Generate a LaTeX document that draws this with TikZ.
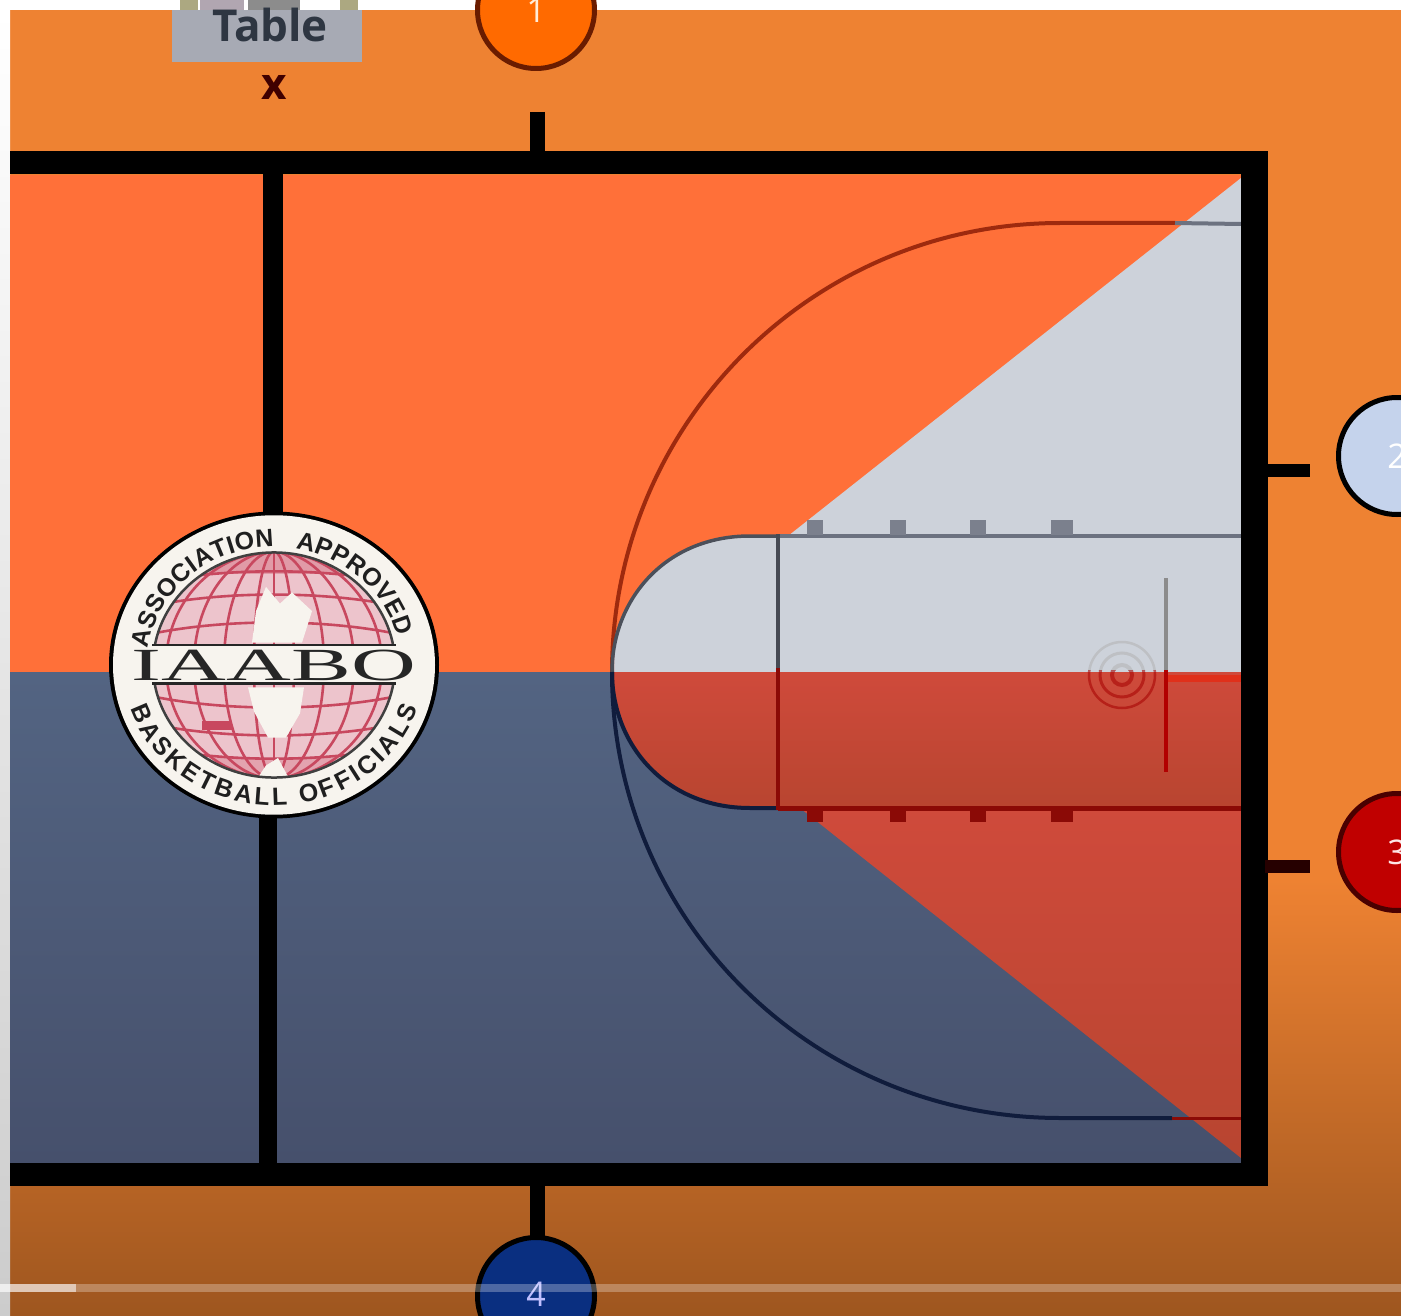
\documentclass[tikz,border=0pt]{standalone}
\usepackage{fontspec}
\setmainfont{Liberation Serif}
\newfontfamily\lblfont{Open Sans}
\newfontfamily\ringfont{Liberation Sans}
\usetikzlibrary{decorations.text}
\definecolor{bgo}{HTML}{EE8232}
\definecolor{bgd}{HTML}{9E561F}
\definecolor{courto}{HTML}{FF7039}
\definecolor{blueA}{HTML}{536482}
\definecolor{blueB}{HTML}{46506C}
\definecolor{keyg}{HTML}{CDD2DA}
\definecolor{redA}{HTML}{CF4A3B}
\definecolor{redB}{HTML}{B84530}
\definecolor{lineg}{HTML}{6C7280}
\definecolor{lined}{HTML}{8B0A06}
\definecolor{arcr}{HTML}{9E2A0E}
\definecolor{arcn}{HTML}{101C3C}
\definecolor{globe}{HTML}{C8485F}
\definecolor{paper}{HTML}{F7F4EE}
\definecolor{tablegray}{HTML}{A7AAB4}
\definecolor{tabletext}{HTML}{2E3642}
\definecolor{spotA}{HTML}{FF6A00}
\definecolor{spotAe}{HTML}{6A1C00}
\definecolor{spotB}{HTML}{C5D3EC}
\definecolor{spotC}{HTML}{C00000}
\definecolor{spotCe}{HTML}{4A0000}
\definecolor{spotD}{HTML}{0A2F80}
\definecolor{rimred}{HTML}{E0301A}
\tikzset{
  frameline/.style={line width=23pt,black,line cap=butt},
  tickline/.style={line width=15pt,black,line cap=butt},
  numdot/.style={circle,minimum size=117pt,inner sep=0pt,line width=5pt,font=\lblfont\fontsize{34}{34}\selectfont},
  thinline/.style={line width=4pt,line cap=butt},
  globeline/.style={line width=2.6pt,globe},
  ringtext/.style={decorate,decoration={text along path,text align={fit to path},text={|\ringfont\bfseries\fontsize{25}{25}\selectfont\color{black!88}|#1}}}
}
\begin{document}
\begin{tikzpicture}[x=1pt,y=-1pt]
\useasboundingbox (0,0) rectangle (1401,1316);
\clip (0,0) rectangle (1401,1316);
% page and surround
\fill[white] (0,0) rectangle (1401,1316);
\fill[bgo] (10,10) rectangle (1401,880);
\shade[top color=bgo,bottom color=bgd,draw=none] (10,880) rectangle (1401,1316);
\shade[top color=white,bottom color=black!20,draw=none] (0,10) rectangle (10,1316);
% court halves
\fill[courto] (10,175) rectangle (1250,672);
\shade[top color=blueA,bottom color=blueB,draw=none] (10,672) rectangle (1250,1163);
% light and red wedges
\fill[keyg] (1241,178) -- (788,536) -- (1250,536) -- (1250,178) -- cycle;
\shade[top color=redA,bottom color=redB,draw=none] (1241,1158) -- (800,808) -- (1250,808) -- (1250,1158) -- cycle;
% key
\fill[keyg] (1250,535) -- (750,535) .. controls (665,535) and (612,600) .. (612,672) -- (1250,672) -- cycle;
\shade[top color=redA,bottom color=redB,draw=none] (1250,808) -- (750,808) .. controls (665,808) and (612,744) .. (612,672) -- (1250,672) -- cycle;
% large arc
\draw[arcr,line width=4pt] (1175,223) -- (1060,223) .. controls (813,223) and (612,423) .. (612,672);
\draw[lineg,line width=4pt] (1175,223) -- (1241,224);
\draw[arcn,line width=4pt] (612,672) .. controls (612,921) and (813,1118) .. (1060,1118) -- (1172,1118);
\draw[lined,line width=3pt] (1172,1118) -- (1241,1118);
% key lines
\draw[lineg!70!black,line width=3.5pt] (780,536) -- (750,536) .. controls (665,536) and (612,600) .. (612,672);
\draw[arcn,line width=4pt] (612,672) .. controls (612,744) and (665,808) .. (750,808) -- (780,808);
\draw[lineg,thinline] (778,536) -- (1241,536);
\draw[lined,thinline,line width=5pt] (778,808) -- (1241,808);
\draw[thinline,draw=lineg!65!black] (778,534) -- (778,668);
\draw[lined,thinline] (778,668) -- (778,810);
\foreach \hx/\hw in {815/16,898/16,978/16,1062/22}{
  \draw[lineg!90,line width=\hw pt] (\hx,520) -- (\hx,535);
  \draw[lined,line width=\hw pt] (\hx,809) -- (\hx,822);
}
% hoop and board
\foreach \rr/\ww in {33/2.5,22/3,10/4}{
  \begin{scope}
    \clip (1070,620) rectangle (1175,670);
    \draw[black!30,line width=\ww pt,opacity=.55] (1122,675) circle[radius=\rr];
  \end{scope}
  \begin{scope}
    \clip (1070,670) rectangle (1175,730);
    \draw[red!65!black,line width=\ww pt,opacity=.55] (1122,675) circle[radius=\rr];
  \end{scope}
}
\draw[black!45,line width=3.5pt] (1166,578) -- (1166,670);
\draw[red!70!black,line width=3.5pt] (1166,670) -- (1166,772);
\draw[rimred,line width=7pt] (1168,678) -- (1241,678);
% frame
\coordinate (ftl) at (10,163);
\coordinate (ftr) at (1254,163);
\coordinate (fbr) at (1254,1174);
\coordinate (fbl) at (10,1174);
\draw[frameline] (ftl) -- (ftr);
\draw[frameline] (fbl) -- (fbr);
\draw[frameline,line width=27pt] (1254,151.5) -- (1254,1185.5);
\coordinate (midt) at (273,163);
\coordinate (midtb) at (273,530);
\coordinate (midb) at (268,1174);
\coordinate (midbb) at (268,800);
\draw[black,line width=20pt] (midt) -- (midtb);
\draw[black,line width=18pt] (midbb) -- (midb);
% numbered spots and ticks
\node[numdot,fill=spotA,draw=spotAe,text=white!85!orange] (n1) at (536,10) {1};
\node[numdot,fill=spotB,draw=black,text=white] (n2) at (1397,456) {2};
\node[numdot,fill=spotC,draw=spotCe,text=white!90!red] (n3) at (1397,852) {3};
\node[numdot,fill=spotD,draw=black,text=white!75!blue] (n4) at (536,1296) {\raisebox{4pt}{4}};
\coordinate (t1a) at (537,112); \coordinate (t1b) at (537,156);
\coordinate (t4a) at (537,1184); \coordinate (t4b) at (537,1236);
\coordinate (t2a) at (1265,470); \coordinate (t2b) at (1310,470);
\coordinate (t3a) at (1265,866); \coordinate (t3b) at (1310,866);
\draw[tickline] (t1a) -- (t1b);
\draw[tickline] (t4a) -- (t4b);
\draw[tickline,line width=13pt] (t2a) -- (t2b);
\draw[tickline,line width=13pt,black!85!red] (t3a) -- (t3b);
% table
\fill[black!50!olive!50!white] (180,0) rectangle (198,12);
\fill[violet!25!black!35] (200,0) rectangle (244,10);
\fill[black!45] (248,0) rectangle (300,12);
\fill[black!50!olive!50!white] (340,0) rectangle (358,14);
\fill[tablegray] (172,10) rectangle (362,62);
\node[anchor=base,inner sep=0pt,font=\lblfont\fontsize{44}{44}\selectfont\bfseries,text=tabletext] (tbl) at (270,42) {Table};
\node[anchor=base,font=\lblfont\fontsize{44}{44}\selectfont\bfseries,text=black!75!red,inner sep=0pt] (xmark) at (274,100) {x};
% logo
\begin{scope}[shift={(274,665)},y=.93pt]
  \fill[black] (0,0) circle[radius=165];
  \fill[paper] (0,0) circle[radius=161];
  \begin{scope}
    \clip (0,0) circle[radius=121];
    \fill[globe!32] (-130,-130) rectangle (130,130);
    \fill[globe!55] (-90,125) rectangle (90,98);
    \fill[globe!50] (-60,-100) rectangle (60,-122);
    \foreach \rx in {20,50,80,108}{
      \draw[globeline] (0,0) ellipse[x radius=\rx,y radius=122];
    }
    \draw[globeline] (0,-125) -- (0,125);
    \foreach \py in {45,75,100}{
      \draw[globeline] (-125,\py-12) .. controls (-50,\py+5) and (50,\py+5) .. (125,\py-12);
      \draw[globeline] (-125,-\py+12) .. controls (-50,-\py-5) and (50,-\py-5) .. (125,-\py+12);
    }
    \fill[paper] (-22,24) -- (-18,58) -- (-8,84) -- (6,66) -- (18,78) -- (38,58) -- (28,24) -- cycle;
    \fill[paper] (-26,-24) -- (-20,-50) -- (-6,-78) -- (12,-78) -- (26,-52) -- (30,-24) -- cycle;
    \fill[paper] (-18,-124) -- (-8,-108) -- (4,-100) -- (16,-124) -- cycle;
    \fill[globe] (-72,-70) rectangle (-42,-60);
    \fill[paper] (-130,-20) rectangle (130,20);
  \end{scope}
  \draw[black!75,line width=2.5pt] (0,0) circle[radius=121];
  \fill[paper] (-150,-22) rectangle (150,22);
  \draw[black!85,line width=2.5pt] (-122,21.5) -- (122,21.5);
  \draw[black!85,line width=2.5pt] (-122,-20) -- (122,-20);
  \path[ringtext={ASSOCIATION~~~APPROVED}] (172:127) arc[start angle=172,end angle=14,radius=127];
  \path[ringtext={BASKETBALL~OFFICIALS}] (198:151) arc[start angle=198,end angle=342,radius=151];
\end{scope}
\node[font=\fontsize{46}{46}\selectfont,xscale=1.95,text=black!85,inner sep=0pt] (iaabo) at (274,665) {IAABO};
% video progress bar
\fill[white,opacity=.28] (0,1284) rectangle (1401,1292);
\fill[white,opacity=.55] (0,1284) rectangle (76,1292);
\end{tikzpicture}
\end{document}
